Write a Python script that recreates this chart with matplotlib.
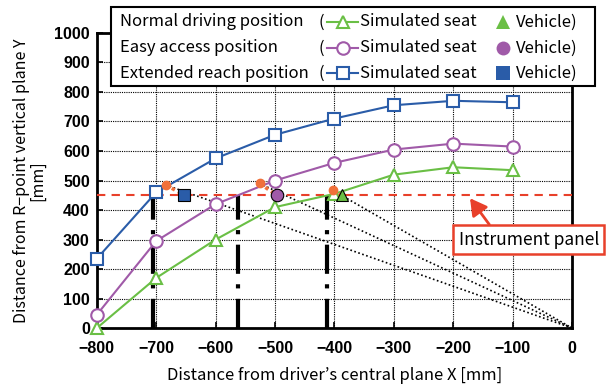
import numpy as np
import matplotlib.pyplot as plt
from matplotlib.lines import Line2D
from matplotlib.patches import Rectangle

plt.rcParams['font.family'] = ['Noto Sans CJK JP', 'DejaVu Sans']

# simulated seat curves
x_sim = [-800, -700, -600, -500, -400, -300, -200, -100]
normal_y = [0, 170, 300, 410, 455, 520, 545, 535]
easy_y = [45, 295, 420, 500, 560, 605, 625, 615]
extended_y = [235, 460, 575, 655, 710, 755, 770, 765]

# vehicle measurements
veh_x = [-388, -497, -654]
veh_y = [450, 450, 452]

# orange reference points (eye points) and their sight lines to origin
eye_x = [-403, -526, -684]
eye_y = [467, 490, 485]

# where the curves cross the instrument panel height
cross_x = [-412, -562, -705]
panel_y = 450

green = '#6abf45'
purple = '#a05aa8'
blue = '#2a5ca8'
orange = '#f0703a'
red = '#e8402a'

fig = plt.figure(figsize=(6.16, 3.87), dpi=100)
ax = fig.add_axes([0.157, 0.152, 0.772, 0.763])

ax.grid(True, color='black', linestyle=(0, (1, 1)), linewidth=0.8)
ax.set_axisbelow(True)

# sight lines to origin
for ex, ey in zip(eye_x, eye_y):
    ax.plot([ex, 0], [ey, 0], color='black', linestyle=(0, (1, 1.5)), linewidth=1.2, zorder=2)

# vertical dash-dot lines
for cx in cross_x:
    ax.plot([cx, cx], [0, panel_y], color='black', linewidth=3,
            linestyle=(0, (7, 2.5, 1, 2.5)), zorder=3)

# instrument panel line
ax.axhline(panel_y, color=red, linestyle=(0, (4, 3)), linewidth=1.5, zorder=3)

ax.plot(x_sim, normal_y, color=green, marker='^', markersize=9, markerfacecolor='white',
        markeredgecolor=green, markeredgewidth=1.5, linewidth=1.5, zorder=5, clip_on=False)
ax.plot(x_sim, easy_y, color=purple, marker='o', markersize=9, markerfacecolor='white',
        markeredgecolor=purple, markeredgewidth=1.5, linewidth=1.5, zorder=5, clip_on=False)
ax.plot(x_sim, extended_y, color=blue, marker='s', markersize=9, markerfacecolor='white',
        markeredgecolor=blue, markeredgewidth=1.5, linewidth=1.5, zorder=5, clip_on=False)

# orange eye points with short dotted link to vehicle
for ex, ey, vx, vy in zip(eye_x, eye_y, veh_x, veh_y):
    ax.plot([ex, vx], [ey, vy], color=orange, linestyle=(0, (1, 1)), linewidth=2.5, zorder=6)
    ax.plot(ex, ey, 'o', color=orange, markersize=6, zorder=6)

veh_markers = ['^', 'o', 's']
veh_colors = [green, purple, blue]
for vx, vy, m, c in zip(veh_x, veh_y, veh_markers, veh_colors):
    ax.plot(vx, vy, marker=m, markersize=9, color=c, markeredgecolor='black',
            markeredgewidth=0.8, zorder=7)

ax.set_xlim(-800, 0)
ax.set_ylim(0, 1000)
ax.set_xticks(np.arange(-800, 1, 100))
ax.set_yticks(np.arange(0, 1001, 100))
ax.set_xticklabels([str(v).replace('-', '\u2212') for v in range(-800, 1, 100)])
ax.tick_params(direction='in', length=4, width=1.2, labelsize=11.5)
ax.tick_params(axis='x', pad=9)
ax.tick_params(axis='y', pad=5)
for lab in ax.get_xticklabels() + ax.get_yticklabels():
    lab.set_fontweight('bold')
    lab.set_family('Liberation Sans')
for s in ax.spines.values():
    s.set_linewidth(2)

ax.set_xlabel("Distance from driver\u2019s central plane X [mm]", fontsize=12, labelpad=8)
ax.set_ylabel("Distance from R\u2212point vertical plane Y\n[mm]", fontsize=11.5, labelpad=6,
              linespacing=0.9)

# instrument panel annotation
ax.annotate('Instrument panel', xy=(-172, 440), xytext=(-73, 300),
            xycoords='data', textcoords='data', ha='center', va='center', fontsize=12.5,
            annotation_clip=False,
            bbox=dict(boxstyle='square,pad=0.3', facecolor='white', edgecolor=red, linewidth=1.8),
            arrowprops=dict(arrowstyle='-|>,head_length=0.8,head_width=0.45', color=red,
                            linewidth=2, shrinkA=0, shrinkB=0,
                            relpos=(0.25, 1.0)), zorder=10)

# custom legend box in figure coordinates
W, H = 616.0, 387.0
def fx(px):
    return px / W
def fy(py):
    return 1 - py / H

fig.add_artist(Rectangle((fx(111), fy(86)), fx(595) - fx(111), fy(7) - fy(86),
                         transform=fig.transFigure, facecolor='white', edgecolor='black',
                         linewidth=1.5, zorder=20))

names = ['Normal driving position', 'Easy access position', 'Extended reach position']
rows = [22, 48, 73]
sim_markers = ['^', 'o', 's']
for name, ry, m, c in zip(names, rows, sim_markers, veh_colors):
    fig.text(fx(120), fy(ry), name, fontsize=12, va='center', ha='left', zorder=21)
    fig.text(fx(318), fy(ry), '(', fontsize=12, va='center', ha='left', zorder=21)
    fig.add_artist(Line2D([fx(327), fx(358)], [fy(ry), fy(ry)], transform=fig.transFigure,
                          color=c, linewidth=1.5, marker=None, zorder=21))
    fig.add_artist(Line2D([fx(343)], [fy(ry)], transform=fig.transFigure, color=c,
                          marker=m, markersize=9, markerfacecolor='white',
                          markeredgewidth=1.5, zorder=22))
    fig.text(fx(360), fy(ry), 'Simulated seat', fontsize=12, va='center', ha='left', zorder=21)
    fig.add_artist(Line2D([fx(503)], [fy(ry)], transform=fig.transFigure, color=c,
                          marker=m, markersize=10, markeredgewidth=0, zorder=22))
    fig.text(fx(516), fy(ry), 'Vehicle)', fontsize=12, va='center', ha='left', zorder=21)

fig.savefig('out.png', dpi=100)
